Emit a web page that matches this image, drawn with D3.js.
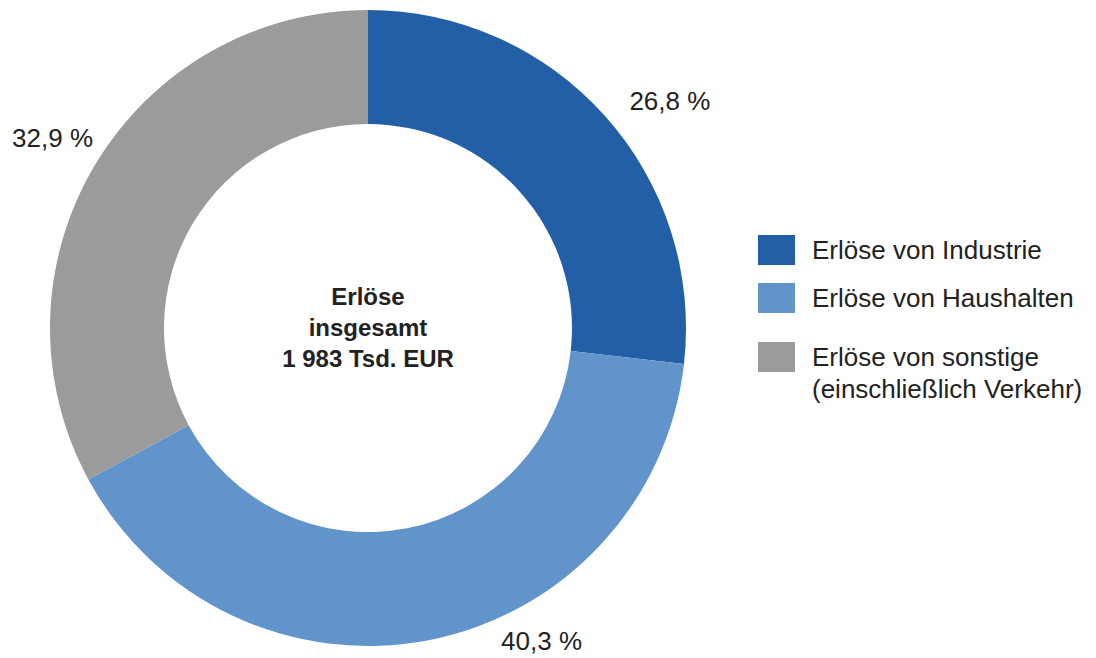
<!DOCTYPE html>
<html>
<head>
<meta charset="utf-8">
<script src="https://cdn.jsdelivr.net/npm/d3@7"></script>
<style>
  body { margin: 0; background: #fff; }
  svg { font-family: "Liberation Sans", Arial, sans-serif; }
</style>
</head>
<body>
<svg width="1096" height="658"></svg>
<script>
// data
const categories = ["Erlöse von Industrie", "Erlöse von Haushalten", "Erlöse von sonstige (einschließlich Verkehr)"];
const shares = [26.8, 40.3, 32.9];
const shareLabels = ["26,8 %", "40,3 %", "32,9 %"];
const centerLines = ["Erlöse", "insgesamt", "1 983 Tsd. EUR"];
const legendLines = [["Erlöse von Industrie"], ["Erlöse von Haushalten"], ["Erlöse von sonstige", "(einschließlich Verkehr)"]];

const colors = ["#235fa6", "#6194cb", "#9a9b9d"];

// label placement (angle in degrees from top, distance from centre)
const labelAngle = [53, 151, 301];
const labelDist = [378, 358, 368];

const svg = d3.select("svg");
const cx = 368, cy = 328;
const outerR = 318, innerR = 204;

const g = svg.append("g").attr("transform", "translate(" + cx + "," + cy + ")");

const pie = d3.pie().sort(null).value(d => d);
const arc = d3.arc().innerRadius(innerR).outerRadius(outerR);

const color = d3.scaleOrdinal().domain(categories).range(colors);

g.selectAll("path")
  .data(pie(shares))
  .enter()
  .append("path")
  .attr("d", arc)
  .attr("fill", (d, i) => color(categories[i]));

// percent labels
g.selectAll("text.pct")
  .data(shareLabels)
  .enter()
  .append("text")
  .attr("class", "pct")
  .attr("x", (d, i) => labelDist[i] * Math.sin(labelAngle[i] * Math.PI / 180))
  .attr("y", (d, i) => -labelDist[i] * Math.cos(labelAngle[i] * Math.PI / 180))
  .attr("text-anchor", "middle")
  .attr("dominant-baseline", "central")
  .style("font-size", "26px")
  .style("fill", "#222")
  .text(d => d);

// centre text
g.selectAll("text.center")
  .data(centerLines)
  .enter()
  .append("text")
  .attr("class", "center")
  .attr("x", 0)
  .attr("y", (d, i) => -23 + i * 31)
  .attr("text-anchor", "middle")
  .style("font-size", "24px")
  .style("font-weight", "bold")
  .style("fill", "#222")
  .text(d => d);

// legend
const legendY = [250, 298, 357];
const legend = svg.append("g").attr("transform", "translate(758,0)");

legend.selectAll("rect")
  .data(categories)
  .enter()
  .append("rect")
  .attr("x", 0)
  .attr("y", (d, i) => legendY[i] - 15)
  .attr("width", 37)
  .attr("height", 30)
  .attr("fill", d => color(d));

legendLines.forEach((lines, i) => {
  legend.append("text")
    .attr("x", 54)
    .attr("y", legendY[i] + 9)
    .style("font-size", "26px")
    .style("fill", "#222")
    .selectAll("tspan")
    .data(lines)
    .enter()
    .append("tspan")
    .attr("x", 54)
    .attr("dy", (d, j) => j === 0 ? 0 : 32)
    .text(d => d);
});
</script>
</body>
</html>
